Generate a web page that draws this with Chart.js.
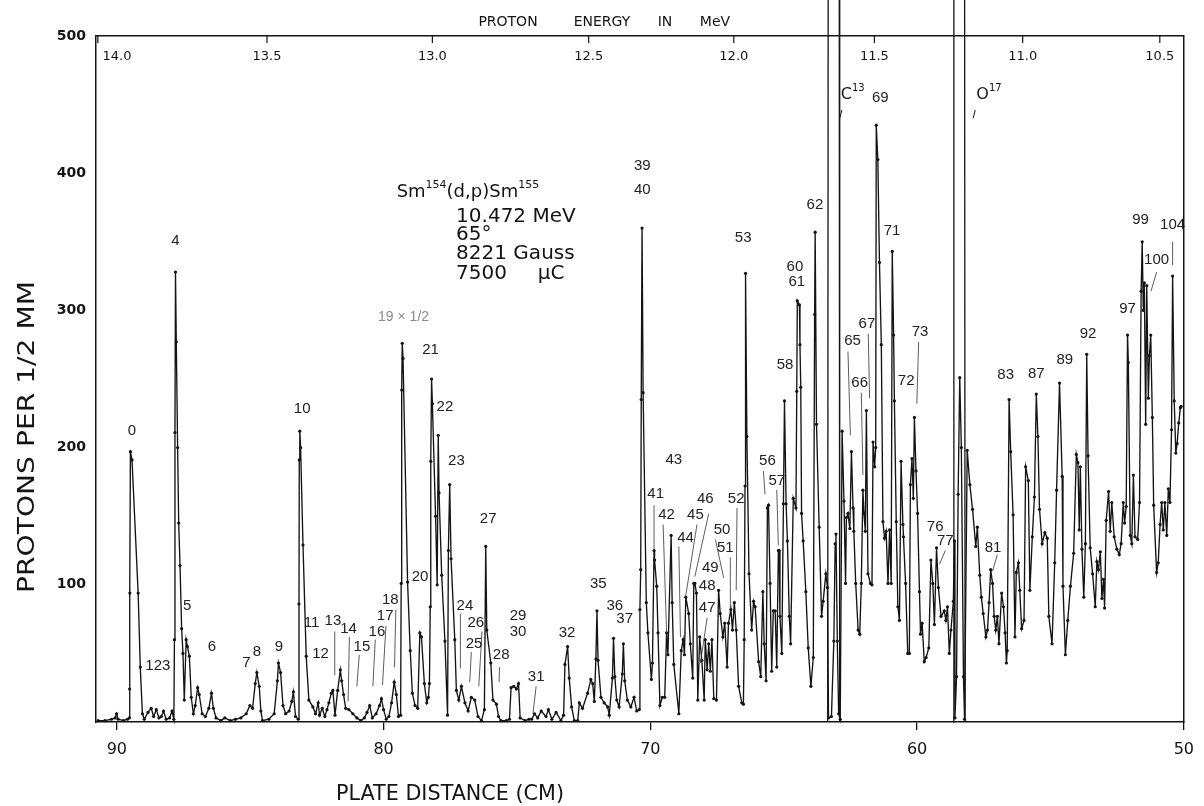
<!DOCTYPE html>
<html>
<head>
<meta charset="utf-8">
<title>Sm154(d,p)Sm155 proton spectrum</title>
<script src="https://cdn.jsdelivr.net/npm/chart.js@4.4.1/dist/chart.umd.min.js"></script>
<style>
  html, body { margin: 0; padding: 0; background: #fff; }
  #wrap { width: 1204px; height: 806px; }
</style>
</head>
<body>
<div id="wrap"><canvas id="spectrum" width="1204" height="806"></canvas></div>
<script>
// ===== Sm154(d,p)Sm155 - espectro de protoes =====

// posicao na placa (cm) e contagem (protons per 1/2 mm), da esquerda para a direita
const plateCm = [
  90.70, 90.45, 90.20, 90.06, 90.01, 89.95, 89.75, 89.60, 89.53, 89.52, 89.51, 89.49, 89.43, 89.20, 89.12, 89.04,
  88.97, 88.83, 88.71, 88.62, 88.52, 88.42, 88.33, 88.25, 88.15, 88.02, 87.93, 87.86, 87.84, 87.82, 87.80, 87.77,
  87.72, 87.68, 87.63, 87.57, 87.52, 87.47, 87.40, 87.35, 87.28, 87.21, 87.13, 87.06, 86.97, 86.91, 86.80, 86.68,
  86.55, 86.45, 86.38, 86.28, 86.10, 85.95, 85.75, 85.55, 85.35, 85.15, 85.01, 84.91, 84.81, 84.75, 84.66, 84.60,
  84.54, 84.30, 84.10, 83.98, 83.94, 83.86, 83.77, 83.67, 83.54, 83.44, 83.38, 83.30, 83.20, 83.17, 83.16, 83.14,
  83.11, 83.02, 82.90, 82.80, 82.65, 82.55, 82.45, 82.40, 82.30, 82.20, 82.12, 82.05, 81.96, 81.90, 81.82, 81.72,
  81.62, 81.57, 81.50, 81.42, 81.30, 81.15, 81.00, 80.85, 80.72, 80.62, 80.52, 80.42, 80.28, 80.15, 80.08, 80.00,
  79.90, 79.80, 79.70, 79.60, 79.52, 79.44, 79.36, 79.34, 79.32, 79.30, 79.27, 79.10, 79.00, 78.92, 78.82, 78.72,
  78.64, 78.58, 78.47, 78.38, 78.32, 78.28, 78.25, 78.23, 78.20, 78.17, 78.05, 77.99, 77.95, 77.92, 77.82, 77.70,
  77.60, 77.57, 77.52, 77.47, 77.33, 77.27, 77.18, 77.08, 76.95, 76.83, 76.71, 76.58, 76.46, 76.33, 76.22, 76.17,
  76.13, 75.98, 75.90, 75.77, 75.69, 75.60, 75.40, 75.28, 75.22, 75.12, 75.02, 74.94, 74.88, 74.70, 74.55, 74.45,
  74.34, 74.22, 74.09, 73.91, 73.82, 73.69, 73.53, 73.35, 73.25, 73.20, 73.10, 73.04, 72.95, 72.85, 72.72, 72.66,
  72.54, 72.35, 72.23, 72.16, 72.10, 72.04, 72.00, 71.96, 71.85, 71.73, 71.60, 71.54, 71.42, 71.38, 71.33, 71.26,
  71.17, 71.05, 71.01, 70.96, 70.86, 70.73, 70.61, 70.51, 70.42, 70.39, 70.36, 70.34, 70.31, 70.27, 70.15, 70.09,
  69.96, 69.92, 69.86, 69.84, 69.76, 69.71, 69.64, 69.55, 69.46, 69.39, 69.34, 69.22, 69.18, 69.12, 68.93, 68.84,
  68.77, 68.72, 68.67, 68.56, 68.50, 68.41, 68.37, 68.33, 68.27, 68.22, 68.15, 68.07, 67.98, 67.94, 67.87, 67.81,
  67.75, 67.69, 67.62, 67.52, 67.44, 67.38, 67.28, 67.21, 67.12, 67.07, 66.98, 66.92, 66.85, 66.78, 66.69, 66.57,
  66.51, 66.48, 66.45, 66.43, 66.38, 66.30, 66.20, 66.13, 66.07, 65.94, 65.86, 65.78, 65.73, 65.66, 65.61, 65.57,
  65.51, 65.45, 65.39, 65.32, 65.26, 65.20, 65.17, 65.14, 65.07, 65.01, 64.97, 64.91, 64.86, 64.79, 64.74, 64.64,
  64.54, 64.51, 64.49, 64.41, 64.39, 64.36, 64.33, 64.27, 64.17, 64.08, 63.98, 63.89, 63.84, 63.82, 63.77, 63.67,
  63.58, 63.52, 63.42, 63.36, 63.32, 63.21, 63.12, 63.07, 63.04, 62.99, 62.94, 62.88, 62.81, 62.74, 62.68, 62.65,
  62.59, 62.52, 62.46, 62.40, 62.37, 62.30, 62.21, 62.15, 62.09, 62.03, 61.99, 61.94, 61.90, 61.84, 61.75, 61.69,
  61.65, 61.59, 61.55, 61.53, 61.47, 61.41, 61.34, 61.28, 61.22, 61.16, 61.09, 61.03, 60.97, 60.93, 60.88, 60.85,
  60.78, 60.72, 60.66, 60.60, 60.53, 60.51, 60.43, 60.35, 60.29, 60.25, 60.19, 60.14, 60.10, 60.04, 59.98, 59.91,
  59.87, 59.81, 59.73, 59.66, 59.56, 59.48, 59.41, 59.35, 59.27, 59.20, 59.10, 58.98, 58.92, 58.86, 58.79, 58.73,
  58.64, 58.60, 58.58, 58.52, 58.46, 58.40, 58.34, 58.26, 58.22, 58.12, 58.02, 57.92, 57.80, 57.74, 57.65, 57.59,
  57.52, 57.42, 57.36, 57.30, 57.24, 57.17, 57.11, 57.05, 56.99, 56.93, 56.83, 56.76, 56.70, 56.65, 56.62, 56.55,
  56.49, 56.40, 56.33, 56.28, 56.20, 56.15, 56.08, 55.99, 55.93, 55.83, 55.77, 55.68, 55.60, 55.53, 55.47, 55.41,
  55.31, 55.21, 55.12, 55.06, 54.94, 54.84, 54.77, 54.66, 54.56, 54.53, 54.44, 54.35, 54.25, 54.13, 54.03, 53.97,
  53.92, 53.88, 53.82, 53.75, 53.69, 53.64, 53.59, 53.51, 53.42, 53.32, 53.26, 53.20, 53.13, 53.07, 53.01, 52.97,
  52.91, 52.82, 52.76, 52.70, 52.61, 52.51, 52.42, 52.35, 52.27, 52.22, 52.16, 52.11, 52.08, 52.01, 51.95, 51.89,
  51.83, 51.73, 51.66, 51.60, 51.56, 51.52, 51.48, 51.43, 51.39, 51.33, 51.29, 51.24, 51.18, 51.13, 51.02, 50.96,
  50.89, 50.83, 50.77, 50.71, 50.64, 50.58, 50.52, 50.46, 50.42, 50.36, 50.30, 50.25, 50.19, 50.13, 50.10
];
const protons = [
  1, 1, 2, 3, 6, 2, 1, 2, 3, 24, 94, 197, 191, 94, 40, 6,
  2, 7, 10, 4, 9, 3, 4, 8, 2, 3, 8, 2, 60, 211, 328, 277,
  200, 145, 114, 68, 50, 16, 60, 55, 48, 18, 6, 12, 25, 20, 6, 4,
  10, 21, 10, 3, 1, 3, 1, 2, 3, 6, 12, 10, 28, 36, 26, 8,
  1, 2, 6, 30, 43, 36, 12, 6, 8, 15, 22, 4, 2, 86, 191, 212,
  200, 129, 48, 16, 11, 6, 14, 5, 10, 4, 9, 14, 21, 23, 5, 23,
  38, 30, 20, 10, 9, 6, 3, 1, 3, 7, 12, 3, 6, 12, 17, 9,
  2, 4, 14, 29, 20, 4, 5, 101, 242, 276, 265, 102, 52, 21, 12, 10,
  65, 62, 28, 14, 18, 28, 84, 190, 250, 232, 150, 100, 209, 167, 107, 59,
  5, 125, 173, 119, 60, 23, 16, 26, 14, 8, 18, 16, 4, 1, 9, 128,
  67, 43, 16, 13, 4, 1, 1, 2, 25, 26, 24, 28, 3, 1, 2, 2,
  6, 3, 8, 4, 9, 2, 7, 1, 5, 42, 55, 32, 11, 1, 1, 14,
  10, 21, 31, 28, 15, 46, 81, 45, 18, 14, 11, 5, 32, 61, 33, 16,
  11, 35, 57, 30, 16, 11, 18, 8, 9, 82, 111, 235, 360, 240, 87, 65,
  31, 43, 125, 118, 99, 65, 12, 18, 18, 65, 49, 136, 87, 42, 6, 52,
  60, 49, 91, 79, 57, 32, 101, 101, 94, 16, 62, 45, 16, 60, 38, 57,
  37, 60, 17, 16, 96, 79, 62, 72, 40, 72, 82, 67, 87, 67, 26, 14,
  13, 60, 172, 327, 208, 108, 67, 88, 84, 44, 33, 95, 57, 30, 156, 158,
  101, 37, 81, 81, 40, 125, 125, 77, 50, 159, 234, 159, 132, 77, 57, 163,
  156, 241, 307, 304, 275, 244, 152, 132, 95, 54, 26, 47, 297, 357, 217, 142,
  77, 88, 108, 98, 3, 4, 59, 130, 137, 59, 6, 2, 212, 161, 101, 149,
  152, 141, 197, 156, 139, 101, 67, 64, 101, 169, 152, 139, 227, 108, 101, 100,
  204, 186, 200, 435, 410, 335, 275, 146, 134, 139, 101, 140, 101, 343, 282, 234,
  146, 84, 74, 190, 144, 135, 101, 50, 50, 173, 192, 163, 222, 183, 152, 95,
  64, 72, 44, 47, 54, 118, 101, 71, 127, 98, 77, 81, 74, 84, 50, 67,
  88, 132, 3, 33, 166, 251, 200, 33, 2, 198, 173, 155, 128, 142, 107, 91,
  79, 62, 67, 87, 111, 101, 77, 67, 77, 57, 94, 84, 65, 43, 52, 235,
  197, 151, 62, 109, 116, 96, 68, 74, 186, 176, 96, 135, 164, 239, 208, 155,
  130, 138, 134, 77, 57, 116, 169, 247, 179, 99, 49, 74, 99, 123, 195, 189,
  140, 186, 126, 91, 130, 268, 194, 127, 108, 84, 117, 111, 124, 90, 104, 83,
  147, 168, 139, 160, 135, 126, 122, 130, 160, 145, 157, 282, 262, 136, 130, 180,
  135, 133, 160, 314, 350, 300, 320, 217, 318, 236, 267, 282, 222, 158, 109, 116,
  144, 160, 140, 160, 136, 170, 160, 213, 325, 234, 196, 203, 218, 229, 230
];

// picos de contaminantes fora de escala (C13 e O17)
const c13Cm = [63.35, 63.33, 62.92, 62.90];
const c13Counts = [0, 620, 620, 0];
const o17Cm = [58.64, 58.62, 58.22, 58.20];
const o17Counts = [0, 620, 620, 0];

// eixos
const distanceTicks = [90, 80, 70, 60, 50];
const countTicks = [100, 200, 300, 400, 500];
const energyTickText = ['14.0', '13.5', '13.0', '12.5', '12.0', '11.5', '11.0', '10.5'];
const energyTickCm = [90.71, 84.37, 78.17, 72.31, 66.87, 61.60, 56.04, 50.90];

// numeros dos niveis: [texto, cm, contagem]
const peakTags = [
  ['0', 89.43, 212], ['123', 88.46, 41], ['4', 87.80, 351], ['5', 87.36, 85], ['6', 86.43, 55],
  ['7', 85.14, 43], ['8', 84.75, 51], ['9', 83.92, 55], ['10', 83.05, 228], ['11', 82.70, 72],
  ['12', 82.36, 50], ['13', 81.90, 74], ['14', 81.31, 68], ['15', 80.81, 55], ['16', 80.25, 66],
  ['17', 79.94, 77], ['18', 79.75, 89], ['20', 78.63, 106], ['21', 78.24, 271], ['22', 77.70, 230],
  ['23', 77.27, 190], ['24', 76.95, 85], ['25', 76.61, 57], ['26', 76.54, 72], ['27', 76.08, 148],
  ['28', 75.59, 49], ['29', 74.96, 77], ['30', 74.96, 66], ['31', 74.28, 33], ['32', 73.12, 65],
  ['35', 71.95, 101], ['36', 71.33, 85], ['37', 70.96, 75], ['39', 70.30, 405], ['40', 70.30, 388],
  ['41', 69.80, 166], ['42', 69.39, 151], ['43', 69.12, 191], ['44', 68.68, 134], ['45', 68.31, 151],
  ['46', 67.94, 163], ['47', 67.87, 83], ['48', 67.87, 99], ['49', 67.75, 112], ['50', 67.31, 140],
  ['51', 67.19, 127], ['52', 66.78, 163], ['53', 66.52, 353], ['56', 65.61, 190], ['57', 65.26, 176],
  ['58', 64.95, 260], ['60', 64.58, 332], ['61', 64.51, 321], ['62', 63.83, 377], ['65', 62.42, 278],
  ['66', 62.15, 247], ['67', 61.88, 290], ['69', 61.38, 455], ['71', 60.94, 358], ['72', 60.41, 249],
  ['73', 59.89, 284], ['76', 59.32, 142], ['77', 58.94, 132], ['81', 57.15, 127], ['83', 56.68, 253],
  ['87', 55.53, 254], ['89', 54.46, 264], ['92', 53.59, 283], ['97', 52.11, 301], ['99', 51.62, 366],
  ['100', 51.02, 337], ['104', 50.42, 362]
];

// tracos finos ligando numero ao pico: [cm1, cont1, cm2, cont2]
const tagLeaders = [
  [81.83, 66, 81.83, 34], [81.28, 62, 81.33, 15], [80.91, 49, 81.00, 26], [80.31, 60, 80.40, 26],
  [79.91, 70, 80.04, 27], [79.54, 82, 79.59, 40], [77.12, 79, 77.12, 39], [76.71, 51, 76.77, 29],
  [76.31, 66, 76.43, 26], [75.65, 40, 75.67, 29], [74.28, 26, 74.40, 6], [69.86, 158, 69.86, 125],
  [69.52, 144, 69.39, 65], [68.93, 128, 68.87, 62], [68.25, 144, 68.68, 91], [67.81, 152, 68.33, 106],
  [67.87, 76, 68.12, 43], [67.56, 133, 67.25, 105], [67.00, 120, 67.00, 82], [66.75, 156, 66.78, 96],
  [65.76, 183, 65.70, 166], [65.26, 169, 65.20, 129], [62.59, 270, 62.50, 209], [62.09, 240, 62.03, 180],
  [61.83, 283, 61.78, 236], [59.94, 277, 60.01, 232], [58.94, 125, 59.16, 115], [56.99, 122, 57.17, 110],
  [51.02, 328, 51.23, 314], [50.42, 350, 50.42, 333]
];

// bloco de condicoes do experimento: [texto, cm, contagem]
const runInfo = [
  ['10.472 MeV', 77.28, 368],
  ['65\u00b0', 77.28, 355],
  ['8221 Gauss', 77.28, 341],
  ['7500', 77.28, 327],
  ['\u03bcC', 74.22, 327]
];

const INK = '#141414';

function drawFitted(ctx, text, cx, cy, width, font, angle) {
  ctx.save();
  ctx.font = font;
  const w = ctx.measureText(text).width;
  ctx.translate(cx, cy);
  if (angle) ctx.rotate(angle);
  ctx.scale(width / w, 1);
  ctx.textAlign = 'center';
  ctx.textBaseline = 'middle';
  ctx.fillText(text, 0, 0);
  ctx.restore();
}

// texto com expoentes: partes [texto, sobrescrito?]
function drawRich(ctx, parts, x, y, size) {
  ctx.textBaseline = 'middle';
  ctx.textAlign = 'left';
  parts.forEach(([t, sup]) => {
    ctx.font = (sup ? Math.round(size * 0.6) : size) + 'px "DejaVu Sans"';
    ctx.fillText(t, x, sup ? y - size * 0.42 : y);
    x += ctx.measureText(t).width;
  });
}

const overlay = {
  id: 'overlay',
  beforeDraw(chart) {
    const ctx = chart.ctx;
    ctx.save();
    ctx.fillStyle = '#fff';
    ctx.fillRect(0, 0, chart.width, chart.height);
    ctx.restore();
  },
  afterDraw(chart) {
    const { ctx, chartArea: a, scales: { x, y } } = chart;
    const px = v => x.getPixelForValue(v);
    const py = v => y.getPixelForValue(v);
    ctx.save();
    ctx.fillStyle = INK;
    ctx.strokeStyle = INK;

    // escala de energia no topo (marcas para dentro)
    ctx.lineWidth = 1.2;
    ctx.font = '13px "DejaVu Sans"';
    ctx.textAlign = 'center';
    ctx.textBaseline = 'middle';
    energyTickCm.forEach((cm, i) => {
      const tx = px(cm);
      ctx.beginPath();
      ctx.moveTo(tx, a.top);
      ctx.lineTo(tx, a.top + 7);
      ctx.stroke();
      ctx.fillText(energyTickText[i], Math.max(tx, a.left + 21), a.top + 21);
    });

    // titulos dos eixos
    const topWords = [['PROTON', 508], ['ENERGY', 602], ['IN', 665], ['MeV', 715]];
    ctx.font = '14px "DejaVu Sans"';
    topWords.forEach(([w, cx]) => ctx.fillText(w, cx, 22));
    drawFitted(ctx, 'PLATE DISTANCE (CM)', 450, 795, 228, '21px "DejaVu Sans"');
    drawFitted(ctx, 'PROTONS PER 1/2 MM', 28, 437, 312, '23px "DejaVu Sans"', -Math.PI / 2);

    // tracos de indicacao
    ctx.lineWidth = 0.8;
    ctx.strokeStyle = '#333';
    tagLeaders.forEach(([c1, v1, c2, v2]) => {
      ctx.beginPath();
      ctx.moveTo(px(c1), py(v1));
      ctx.lineTo(px(c2), py(v2));
      ctx.stroke();
    });

    // numeros dos picos
    ctx.fillStyle = '#222';
    ctx.font = '15px "Liberation Sans"';
    ctx.textAlign = 'center';
    ctx.textBaseline = 'middle';
    peakTags.forEach(([t, cm, v]) => ctx.fillText(t, px(cm), py(v)));
    ctx.fillStyle = '#8a8a8a';
    ctx.font = '14px "Liberation Sans"';
    ctx.fillText('19 \u00d7 1/2', px(79.25), py(295));

    // reacao e condicoes
    ctx.fillStyle = INK;
    drawRich(ctx, [['Sm'], ['154', true], ['(d,p)Sm'], ['155', true]], px(79.51), py(386), 18);
    ctx.font = '20px "DejaVu Sans"';
    ctx.textAlign = 'left';
    runInfo.forEach(([t, cm, v]) => ctx.fillText(t, px(cm), py(v)));

    // contaminantes
    drawRich(ctx, [['C'], ['13', true]], px(62.86), py(457), 16);
    drawRich(ctx, [['O'], ['17', true]], px(57.78), py(457), 16);
    ctx.lineWidth = 1;
    ctx.strokeStyle = INK;
    ctx.beginPath();
    ctx.moveTo(px(62.82), py(446));
    ctx.lineTo(px(62.90), py(440));
    ctx.moveTo(px(57.82), py(446));
    ctx.lineTo(px(57.90), py(440));
    ctx.stroke();
    ctx.restore();
  }
};

const fixedBox = size => function (scale) {
  if (scale.isHorizontal()) scale.height = size;
  else scale.width = size;
};

new Chart(document.getElementById('spectrum').getContext('2d'), {
  type: 'line',
  data: {
    datasets: [
      {
        data: plateCm.map((c, i) => ({ x: c, y: protons[i] })),
        borderColor: INK,
        borderWidth: 1.35,
        pointRadius: 1.6,
        pointBackgroundColor: INK,
        pointBorderWidth: 0,
        tension: 0,
        clip: 3
      },
      {
        data: c13Cm.map((c, i) => ({ x: c, y: c13Counts[i] })),
        borderColor: INK,
        borderWidth: 1.3,
        pointRadius: 0,
        clip: false
      },
      {
        data: o17Cm.map((c, i) => ({ x: c, y: o17Counts[i] })),
        borderColor: INK,
        borderWidth: 1.3,
        pointRadius: 0,
        clip: false
      }
    ]
  },
  options: {
    responsive: false,
    animation: false,
    devicePixelRatio: 1,
    layout: { padding: 0 },
    plugins: { legend: { display: false }, tooltip: { enabled: false } },
    scales: {
      x: {
        type: 'linear',
        position: 'bottom',
        min: 50,
        max: 90.78,
        reverse: true,
        afterBuildTicks: s => { s.ticks = distanceTicks.map(v => ({ value: v })); },
        afterFit: fixedBox(84),
        ticks: {
          autoSkip: false,
          maxRotation: 0,
          padding: 10,
          color: INK,
          font: { family: 'DejaVu Sans', size: 16 }
        },
        grid: { drawOnChartArea: false, drawTicks: true, tickLength: 8, color: INK, lineWidth: 1.3 },
        border: { display: true, color: INK, width: 1.5 }
      },
      x2: {
        type: 'linear',
        position: 'top',
        min: 50,
        max: 90.78,
        reverse: true,
        afterFit: fixedBox(36),
        ticks: { display: false },
        grid: { display: false },
        border: { display: true, color: INK, width: 1.5 }
      },
      y: {
        type: 'linear',
        position: 'left',
        min: 0,
        max: 500,
        afterBuildTicks: s => { s.ticks = countTicks.map(v => ({ value: v })); },
        afterFit: fixedBox(96),
        ticks: {
          autoSkip: false,
          padding: 10,
          color: INK,
          font: { family: 'DejaVu Sans', size: 14, weight: 'bold' }
        },
        grid: { drawOnChartArea: false, drawTicks: false },
        border: { display: true, color: INK, width: 1.5 }
      },
      y2: {
        type: 'linear',
        position: 'right',
        min: 0,
        max: 500,
        afterFit: fixedBox(14),
        ticks: { display: false },
        grid: { display: false },
        border: { display: true, color: INK, width: 1.5 }
      }
    }
  },
  plugins: [overlay]
});
</script>
</body>
</html>
